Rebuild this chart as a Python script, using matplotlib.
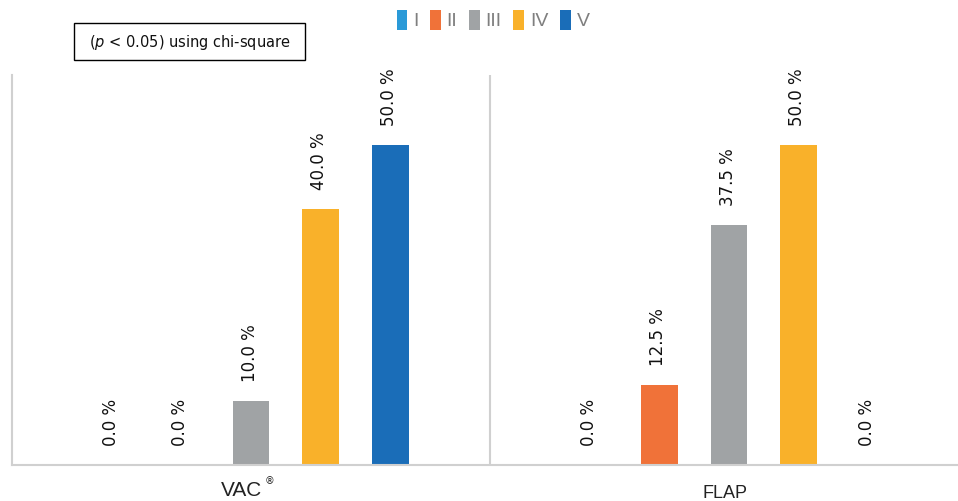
"""Wound closure grade distribution: VAC vs FLAP grouped bars."""
import matplotlib
matplotlib.use("Agg")
import matplotlib.pyplot as plt  # noqa: E402
from matplotlib.patches import Rectangle  # noqa: E402
import numpy as np  # noqa: E402

groups = ["VAC", "FLAP"]
grades = ["I", "II", "III", "IV", "V"]
vac_pct = [0.0, 0.0, 10.0, 40.0, 50.0]
flap_pct = [0.0, 12.5, 37.5, 50.0, 0.0]
colors = ["#2A9AD8", "#F07239", "#A0A3A5", "#F9B12A", "#1A6DB8"]

W, H = 958, 501
fig = plt.figure(figsize=(W / 100, H / 100), dpi=100)
ax = fig.add_axes([12 / W, 36 / H, 946 / W, 390 / H])

step, width = 0.1454, 0.0774
series = np.array([vac_pct, flap_pct])
handles = []
for i, g in enumerate(grades):
    xs = np.arange(len(groups)) + (i - 2) * step
    vals = series[:, i]
    b = ax.bar(xs, vals, width, color=colors[i], label=g)
    handles.append(b)
    for x, v in zip(xs, vals):
        ax.annotate(f"{v:.1f} %", (x, v), xytext=(-1, 14), textcoords="offset points",
                    rotation=90, ha="center", va="bottom", fontsize=12, color="#111111")

ax.set_xlim(-0.5, -0.5 + 946 / 478)
ax.set_ylim(0, 61)
ax.axvline(0.5, color="#D0D0D0", lw=1.5)
for s in ["top", "right"]:
    ax.spines[s].set_visible(False)
for s in ["left", "bottom"]:
    ax.spines[s].set_color("#D0D0D0")
    ax.spines[s].set_linewidth(1.5)
ax.set_xticks([])
ax.set_yticks([])

# group labels
fig.text(242 / W, 1 - 490 / H, "VAC", ha="center", va="center", fontsize=15, color="#222222",
         family="Liberation Sans")
fig.text(265 / W, 1 - 481 / H, "®", ha="left", va="center", fontsize=7, color="#222222")
fig.text(725 / W, 1 - 493 / H, "FLAP", ha="center", va="center", fontsize=13, color="#222222",
         family="Liberation Sans")

# significance note in a plain box
fig.patches.append(Rectangle((74 / W, 1 - 60 / H), 231 / W, 37 / H, transform=fig.transFigure,
                             fc="white", ec="black", lw=1))
fig.text(190 / W, 1 - 42 / H, r"($\it{p}$ < 0.05) using chi-square", ha="center", va="center",
         fontsize=10.5, color="#111111")

fig.legend(handles=handles, labels=grades, loc="center", bbox_to_anchor=(493 / W, 1 - 20 / H),
           ncol=5, frameon=False, labelcolor="#7F7F7F", handlelength=0.55,
           handleheight=1.2, handletextpad=0.3, columnspacing=0.6,
           prop={"family": "Liberation Sans", "size": 14})

fig.savefig("out.png", dpi=100)
